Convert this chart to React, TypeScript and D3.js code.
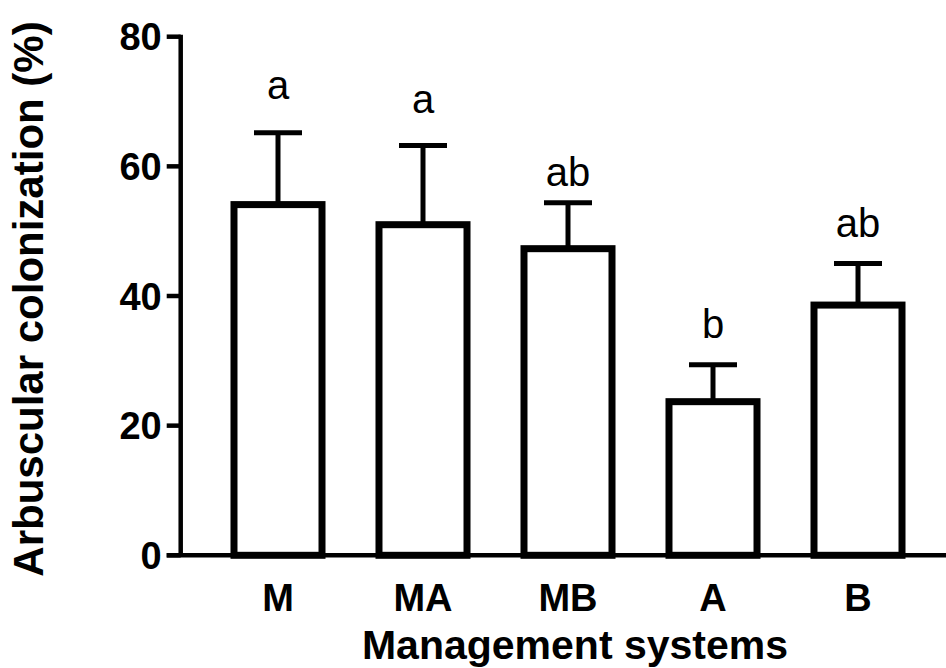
import * as d3 from "d3";

// data
const categories = ["M", "MA", "MB", "A", "B"];
const means = [54.1, 51.0, 47.3, 23.7, 38.6];
const errors = [11.1, 12.2, 7.1, 5.7, 6.4];
const letters = ["a", "a", "ab", "b", "ab"];
const letterPos = [70.4, 68.3, 57.0, 33.5, 49.1];
const yTicks = [0, 20, 40, 60, 80];

const font = "Arial, 'Liberation Sans', Helvetica, sans-serif";

export default function App() {
  const width = 946;
  const height = 668;
  const axisX = 180.7;
  const right = 946;

  const y = d3.scaleLinear().domain([0, 80]).range([555.3, 36.7]);
  const x = d3
    .scaleBand()
    .domain(categories)
    .range([205.5, 930.5])
    .paddingInner(0.393)
    .paddingOuter(0.1965);

  const bw = x.bandwidth();
  const capW = 48;

  return (
    <svg
      width={width}
      height={height}
      style={{ position: "absolute", left: 0, top: 0, background: "#fff" }}
    >
      {/* error bars */}
      <g stroke="#000" strokeWidth={5}>
        {categories.map((c, i) => {
          const cx = x(c)! + bw / 2;
          const top = y(means[i] + errors[i]);
          return (
            <g key={c}>
              <line x1={cx} x2={cx} y1={y(means[i])} y2={top} />
              <line x1={cx - capW / 2} x2={cx + capW / 2} y1={top} y2={top} />
            </g>
          );
        })}
      </g>

      {/* bars */}
      <g fill="#fff" stroke="#000" strokeWidth={7}>
        {categories.map((c, i) => (
          <rect
            key={c}
            x={x(c)}
            y={y(means[i])}
            width={bw}
            height={y(0) - y(means[i])}
          />
        ))}
      </g>

      {/* significance letters */}
      <g fontFamily={font} fontSize={40} textAnchor="middle" fill="#000">
        {categories.map((c, i) => (
          <text key={c} x={x(c)! + bw / 2} y={y(letterPos[i])}>
            {letters[i]}
          </text>
        ))}
      </g>

      {/* y axis */}
      <g stroke="#000" strokeWidth={4.5}>
        <line x1={axisX} x2={axisX} y1={y(80) - 2} y2={y(0)} />
        {yTicks.map((t) => (
          <line key={t} x1={axisX - 14} x2={axisX} y1={y(t)} y2={y(t)} />
        ))}
        <line x1={axisX - 14} x2={right} y1={y(0)} y2={y(0)} />
      </g>
      <g fontFamily={font} fontSize={38} fontWeight="bold" textAnchor="end">
        {yTicks.map((t) => (
          <text key={t} x={axisX - 19} y={y(t)} dy="0.36em">
            {t}
          </text>
        ))}
      </g>

      {/* x tick labels */}
      <g fontFamily={font} fontSize={38} fontWeight="bold" textAnchor="middle">
        {categories.map((c) => (
          <text key={c} x={x(c)! + bw / 2} y={611}>
            {c}
          </text>
        ))}
      </g>

      {/* axis titles */}
      <text
        x={575}
        y={659}
        fontFamily={font}
        fontSize={41}
        fontWeight="bold"
        textAnchor="middle"
      >
        Management systems
      </text>
      <text
        transform={`translate(43, 299) rotate(-90)`}
        fontFamily={font}
        fontSize={42}
        fontWeight="bold"
        textAnchor="middle"
      >
        Arbuscular colonization (%)
      </text>
    </svg>
  );
}
